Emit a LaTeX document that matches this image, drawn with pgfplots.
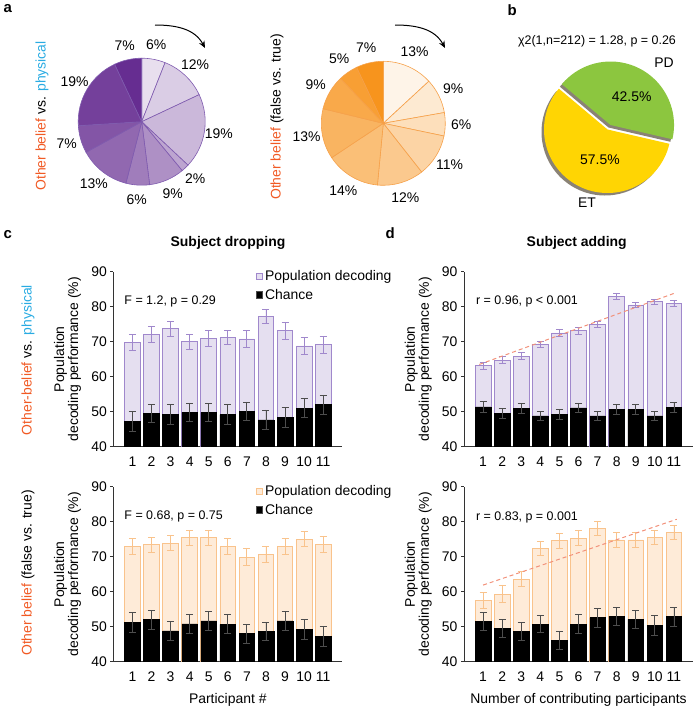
\documentclass[border=0pt]{standalone}
\usepackage{fontspec}
\setmainfont{Liberation Sans}
\usepackage{pgfplots}
\usepackage{pgfplotstable}
\pgfplotsset{compat=1.18}
\usetikzlibrary{arrows.meta}

\definecolor{purpdark}{HTML}{662D91}
\definecolor{purpline}{HTML}{7F5BAF}
\definecolor{purpedge}{HTML}{A088CC}
\definecolor{purpfill}{HTML}{E5DFF0}
\definecolor{orngdark}{HTML}{F7941D}
\definecolor{orngline}{HTML}{F6A14A}
\definecolor{orngedge}{HTML}{F9C38C}
\definecolor{orngfill}{HTML}{FEEBD8}
\definecolor{redlab}{HTML}{F15A24}
\definecolor{cyanlab}{HTML}{29ABE2}
\definecolor{fitline}{HTML}{F2917A}
\definecolor{pdgreen}{HTML}{8CC63F}
\definecolor{etyellow}{HTML}{FFD503}
\definecolor{pieshadow}{HTML}{8A8275}
\definecolor{errgray}{HTML}{4D4D4D}

% subject dropping, other belief vs physical
\pgfplotstableread{
x pop perr ch cerr
1 69.7 2.3 47.2 2.9
2 72.1 2.2 49.5 2.6
3 73.7 2.1 49.2 2.8
4 70.0 2.2 49.8 2.7
5 71.0 2.2 49.8 2.6
6 71.2 2.1 49.2 2.8
7 70.8 2.4 50.1 2.7
8 77.2 2.0 47.7 2.8
9 73.1 2.3 48.3 2.9
10 68.8 2.3 51.0 2.7
11 69.1 2.3 52.0 2.8
}\dropphys
% subject dropping, false vs true
\pgfplotstableread{
x pop perr ch cerr
1 73.0 2.3 51.2 2.8
2 73.4 2.1 52.0 2.7
3 73.9 2.2 48.8 2.8
4 75.4 2.1 50.8 2.7
5 75.4 2.1 51.7 2.7
6 72.9 2.2 50.7 2.7
7 69.9 2.4 48.0 2.7
8 70.7 2.3 48.6 2.6
9 72.9 2.2 51.7 2.7
10 75.0 2.1 49.2 2.9
11 73.5 2.2 47.2 2.8
}\dropfalse
% subject adding, other belief vs physical
\pgfplotstableread{
x pop perr ch cerr
1 63.1 1.0 51.4 1.5
2 64.7 1.0 49.6 1.4
3 65.9 1.0 50.9 1.4
4 69.3 0.9 48.8 1.4
5 72.5 1.0 49.3 1.4
6 73.1 1.0 51.1 1.4
7 75.0 0.9 48.8 1.4
8 83.0 0.8 50.6 1.4
9 80.5 0.8 50.6 1.4
10 81.4 0.8 48.8 1.3
11 80.9 0.9 51.2 1.4
}\addphys
% subject adding, false vs true
\pgfplotstableread{
x pop perr ch cerr
1 57.5 2.4 51.5 2.5
2 59.3 2.4 49.5 2.5
3 63.6 2.2 48.6 2.6
4 72.3 2.0 50.7 2.4
5 74.6 2.2 46.0 2.6
6 75.3 2.1 50.7 2.7
7 78.1 2.0 52.6 2.7
8 74.8 2.1 53.0 2.6
9 74.8 2.1 52.1 2.6
10 75.5 2.1 50.4 2.8
11 76.9 2.0 52.9 2.7
}\addfalse

\newcommand\fs[1]{\fontsize{#1}{#1}\selectfont}

\pgfplotsset{
  decaxis/.style={
    scale only axis, width=229bp, height=175bp,
    xmin=0, xmax=12, ymin=40, ymax=90,
    axis lines=left, axis line style={-, line width=0.8pt, black!80},
    xtick={1,...,11}, ytick={40,50,...,90},
    x tick style={draw=none},
    y tick style={line width=0.8pt, black!80},
    tick align=outside, major tick length=3bp,
    ticklabel style={font=\fs{14}},
    xticklabel style={yshift=-4bp},
    /pgf/number format/assume math mode=true,
    ylabel={Population\\decoding performance (\%)},
    ylabel style={align=center, font=\fs{14}, at={(axis description cs:-0.2,0.5)}, anchor=center},
    xlabel style={font=\fs{14}, yshift=-4bp},
    legend style={draw=none, fill=none, at={(0.608,1.03)}, anchor=north west,
      font=\fs{14}, row sep=3bp, legend cell align=left},
  },
  popbar/.style={ybar, /pgf/bar shift=0pt, bar width=0.82, draw=#1edge, fill=#1fill, line width=0.8pt,
    legend image code/.code={\draw[draw=#1edge, fill=#1fill, line width=0.8pt] (0bp,-3.3bp) rectangle (6.6bp,3.3bp);},
    /pgfplots/error bars/y dir=both, /pgfplots/error bars/y explicit,
    /pgfplots/error bars/error bar style={#1edge, line width=0.8pt},
    /pgfplots/error bars/error mark options={rotate=90, #1edge, mark size=3.5bp, line width=0.8pt}},
  chbar/.style={ybar, /pgf/bar shift=0pt, bar width=0.82, draw=black, fill=black, line width=0.5pt,
    legend image code/.code={\draw[fill=black, draw=black!70] (0bp,-3.3bp) rectangle (6.6bp,3.3bp);},
    /pgfplots/error bars/y dir=both, /pgfplots/error bars/y explicit,
    /pgfplots/error bars/error bar style={errgray, line width=0.8pt},
    /pgfplots/error bars/error mark options={rotate=90, errgray, mark size=3.5bp, line width=0.8pt}},
  pieaxis/.style={hide axis, scale only axis, width=130bp, height=130bp,
    xmin=-1, xmax=1, ymin=-1, ymax=1, anchor=center, clip=false},
}

% pie slice: start %, end %, fill, label; clockwise from 12 o'clock
\newcommand\pscale{3.6}
\newcommand\prad{63.5}
\newcommand\pieslice[4]{%
  \filldraw[fill=#3] (axis cs:0,0) -- ++({90-\pscale*#1}:\prad bp)
    arc[start angle={90-\pscale*#1}, end angle={90-\pscale*#2}, radius=\prad bp] -- cycle;
  \path (axis cs:0,0) ++({90-\pscale*(#1+#2)/2}:78bp) node[font=\fs{14}] {#4};}
% ET/PD slice: start angle, end angle, shift
\newcommand\bslice[3]{%
  ([shift={#3}]axis cs:0,0) -- ++(#1:63.5bp) arc[start angle=#1, end angle=#2, radius=63.5bp] -- cycle}

\begin{document}
\begin{tikzpicture}[x=1bp, y=1bp]
\path[use as bounding box] (0bp,0bp) rectangle (696bp,-708bp);

% panel letters
\node[anchor=base west, font=\bfseries\fs{15}] at (0bp,-12bp) {a};
\node[anchor=base west, font=\bfseries\fs{15}] at (504bp,-15bp) {b};
\node[anchor=base west, font=\bfseries\fs{15}] at (0bp,-238.5bp) {c};
\node[anchor=base west, font=\bfseries\fs{15}] at (382bp,-238.5bp) {d};

% ---------- a: pies ----------
\node[rotate=90, font=\fs{14}] at (42bp,-116bp) {\textcolor{redlab}{Other belief} vs. \textcolor{cyanlab}{physical}};
\begin{axis}[pieaxis, at={(141.7bp,-121.7bp)}]
  \begin{scope}[draw=purpline, line width=0.6pt]
  \pieslice{0}{6}{purpdark!15}{6\%}
  \pieslice{6}{18}{purpdark!24}{12\%}
  \pieslice{18}{37}{purpdark!34}{19\%}
  \pieslice{37}{39}{purpdark!43}{2\%}
  \pieslice{39}{48}{purpdark!53}{9\%}
  \pieslice{48}{54}{purpdark!62}{6\%}
  \pieslice{54}{67}{purpdark!72}{13\%}
  \pieslice{67}{74}{purpdark!81}{7\%}
  \pieslice{74}{93}{purpdark!91}{19\%}
  \pieslice{93}{100}{purpdark}{7\%}
  \end{scope}
\end{axis}
\draw[-{Stealth[length=7bp,width=6bp]}, line width=1pt] (155bp,-25bp) to[out=0,in=118] (205bp,-48bp);

\node[rotate=90, font=\fs{14}] at (277bp,-117bp) {\textcolor{redlab}{Other belief} (false vs. true)};
\renewcommand\pscale{3.6364}
\renewcommand\prad{62}
\begin{axis}[pieaxis, at={(383.3bp,-123.3bp)}]
  \begin{scope}[draw=orngline, line width=0.6pt]
  \pieslice{0}{13}{orngdark!10}{13\%}
  \pieslice{13}{22}{orngdark!20}{9\%}
  \pieslice{22}{28}{orngdark!30}{6\%}
  \pieslice{28}{39}{orngdark!40}{11\%}
  \pieslice{39}{51}{orngdark!50}{12\%}
  \pieslice{51}{65}{orngdark!60}{14\%}
  \pieslice{65}{78}{orngdark!70}{13\%}
  \pieslice{78}{87}{orngdark!80}{9\%}
  \pieslice{87}{92}{orngdark!90}{5\%}
  \pieslice{92}{99}{orngdark}{7\%}
  \end{scope}
\end{axis}
\draw[-{Stealth[length=7bp,width=6bp]}, line width=1pt] (395bp,-25bp) to[out=0,in=118] (445bp,-48bp);

% ---------- b: ET vs PD ----------
\node[font=\fs{12.5}] at (597bp,-41.7bp) {χ2(1,n=212) = 1.28, p = 0.26};
\begin{axis}[pieaxis, at={(607.5bp,-129.5bp)}]
  % ET 57.5 % (140 to 347 deg), PD 42.5 % (347 to 500 deg)
  \fill[pieshadow] \bslice{140}{347}{(-2.5bp,-2.5bp)};
  \fill[pieshadow] \bslice{347}{500}{(1bp,2bp)};
  \fill[etyellow] \bslice{140}{347}{(0bp,0bp)};
  \fill[pdgreen] \bslice{347}{500}{(3bp,4.5bp)};
\end{axis}
\node[font=\fs{14}] at (631.7bp,-96.7bp) {42.5\%};
\node[font=\fs{14}] at (600bp,-160bp) {57.5\%};
\node[font=\fs{14}] at (664bp,-63bp) {PD};
\node[font=\fs{14}] at (587bp,-203bp) {ET};

% ---------- c / d titles and side labels ----------
\node[font=\bfseries\fs{14}] at (228bp,-243bp) {Subject dropping};
\node[font=\bfseries\fs{14}] at (576.7bp,-243bp) {Subject adding};
\node[rotate=90, font=\fs{14}] at (28bp,-360bp) {\textcolor{redlab}{Other-belief} vs. \textcolor{cyanlab}{physical}};
\node[rotate=90, font=\fs{14}] at (28bp,-573bp) {\textcolor{redlab}{Other belief} (false vs. true)};

% c top
\begin{axis}[decaxis, at={(113.3bp,-446.7bp)}, anchor=south west]
  \addplot[popbar=purp] table[x=x, y=pop, y error=perr] {\dropphys};
  \addlegendentry{Population decoding}
  \addplot[chbar] table[x=x, y=ch, y error=cerr] {\dropphys};
  \addlegendentry{Chance}
  \node[anchor=west, font=\fs{12.5}] at (axis cs:0.4,81.4) {F = 1.2, p = 0.29};
\end{axis}

% c bottom
\begin{axis}[decaxis, at={(113.3bp,-661.7bp)}, anchor=south west,
  xlabel={Participant \#}]
  \addplot[popbar=orng] table[x=x, y=pop, y error=perr] {\dropfalse};
  \addlegendentry{Population decoding}
  \addplot[chbar] table[x=x, y=ch, y error=cerr] {\dropfalse};
  \addlegendentry{Chance}
  \node[anchor=west, font=\fs{12.5}] at (axis cs:0.4,81.4) {F = 0.68, p = 0.75};
\end{axis}

% d top
\begin{axis}[decaxis, at={(464bp,-446.7bp)}, anchor=south west]
  \addplot[popbar=purp] table[x=x, y=pop, y error=perr] {\addphys};
  \addplot[chbar] table[x=x, y=ch, y error=cerr] {\addphys};
  \addplot[fitline, line width=1pt, dash pattern=on 4bp off 3bp] coordinates {(0.8,63.5) (11.1,84.0)};
  \node[anchor=west, font=\fs{12.5}] at (axis cs:0.45,81.4) {r = 0.96, p < 0.001};
\end{axis}

% d bottom
\begin{axis}[decaxis, at={(464bp,-661.7bp)}, anchor=south west,
  xlabel={Number of contributing participants}]
  \addplot[popbar=orng] table[x=x, y=pop, y error=perr] {\addfalse};
  \addplot[chbar] table[x=x, y=ch, y error=cerr] {\addfalse};
  \addplot[fitline, line width=1pt, dash pattern=on 4bp off 3bp] coordinates {(1.0,61.9) (11.15,80.7)};
  \node[anchor=west, font=\fs{12.5}] at (axis cs:0.45,81.1) {r = 0.83, p = 0.001};
\end{axis}
\end{tikzpicture}
\end{document}
